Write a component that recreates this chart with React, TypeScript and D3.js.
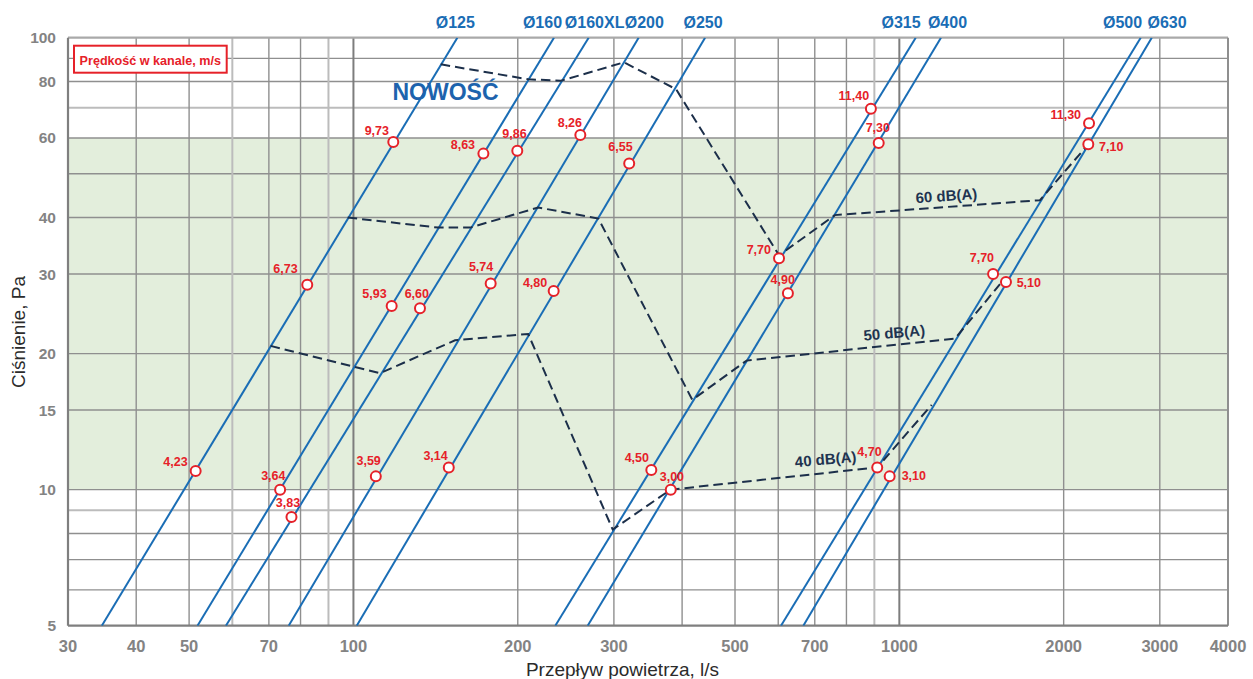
import React from "react";
import * as d3 from "d3";

// ---------- data ----------
const xTicks = [30, 40, 50, 70, 100, 200, 300, 500, 700, 1000, 2000, 3000, 4000];
const yTicks = [5, 10, 15, 20, 30, 40, 60, 80, 100];
const xGrid = [40, 50, 60, 70, 80, 90, 100, 200, 300, 400, 500, 600, 700, 800, 900, 1000, 2000, 3000];
const yGrid = [6, 7, 8, 9, 10, 15, 20, 30, 40, 50, 60, 70, 80, 90];
const xGridLight = [60, 90, 900];
const yGridLight = [70, 9];
const xGridHeavy = [100, 1000];

const ducts = ["Ø125", "Ø160", "Ø160XL", "Ø200", "Ø250", "Ø315", "Ø400", "Ø500", "Ø630"];
const ductFlowAt5Pa = [34.6, 51.8, 58.4, 76.1, 101.4, 234.3, 268.6, 607, 667];
const ductFlowAt100Pa = [155, 233, 269.7, 333, 440.7, 1071.6, 1192, 2768, 2900];

const pointDuct = [
  "Ø125", "Ø125", "Ø125",
  "Ø160", "Ø160", "Ø160",
  "Ø160XL", "Ø160XL", "Ø160XL",
  "Ø200", "Ø200", "Ø200",
  "Ø250", "Ø250", "Ø250",
  "Ø315", "Ø315", "Ø315",
  "Ø400", "Ø400", "Ø400",
  "Ø500", "Ø500", "Ø500",
  "Ø630", "Ø630", "Ø630",
];
const pointFlow = [
  51.4, 82.3, 118.3,
  73.4, 117.5, 173,
  77, 132.4, 199.6,
  109.9, 178.4, 260.4,
  149.5, 232.7, 320,
  351.3, 602, 887,
  381.3, 625, 916.7,
  911, 1485, 2226,
  960, 1568, 2219,
];
const pointPressure = [
  11.0, 28.4, 58.8,
  10.0, 25.5, 55.4,
  8.7, 25.2, 56.2,
  10.7, 28.6, 60.9,
  11.2, 27.5, 52.7,
  11.05, 32.5, 69.6,
  10.0, 27.2, 58.5,
  11.2, 30.0, 64.7,
  10.7, 28.8, 58.1,
];
const pointVelocity = [
  "4,23", "6,73", "9,73",
  "3,64", "5,93", "8,63",
  "3,83", "6,60", "9,86",
  "3,59", "5,74", "8,26",
  "3,14", "4,80", "6,55",
  "4,50", "7,70", "11,40",
  "3,00", "4,90", "7,30",
  "4,70", "7,70", "11,30",
  "3,10", "5,10", "7,10",
];

const noiseLevels = ["60 dB(A)", "50 dB(A)", "40 dB(A)"];
const noise60Flow = [144.5, 209, 240, 313, 390, 602, 762, 1810, 2219];
const noise60Pressure = [87.3, 80.9, 80.3, 88.2, 76.9, 33.0, 40.5, 43.7, 58.1];
const noise50Flow = [97.6, 143, 163.5, 218, 281, 417.6, 525, 1265, 1529];
const noise50Pressure = [40, 38, 38, 42.1, 39.8, 15.8, 19.3, 21.6, 28.5];
const noise40Flow = [70.5, 111.8, 153.5, 209, 298.5, 381, 911, 1146];
const noise40Pressure = [20.8, 18.1, 21.4, 22.1, 8.16, 10.0, 11.2, 15.4];

const bandLow = 10;
const bandHigh = 60;

// ---------- layout / style (not data) ----------
const W = 1253;
const H = 679;
const L = 68, R = 1228, T = 37.7, B = 625.7;

const ductLabelDx = [-2, -11.5, 6, 5.7, -2, -14.7, 6.5, -18.2, 15.3];
// [anchor, dx, dy] per velocity point
const labelPlace: [string, number, number][] = [
  ["end", -8, -5.4], ["end", -9.6, -11.4], ["end", -4.3, -7],
  ["end", 5.4, -10], ["end", -5, -7.7], ["end", -8.3, -4.4],
  ["end", 8.7, -9.7], ["end", 9, -10.7], ["end", 9.4, -12.4],
  ["end", 5, -11], ["end", 2.6, -12], ["end", 1.7, -8],
  ["end", -1, -7.4], ["end", -6.4, -4], ["end", 3.4, -12.3],
  ["end", -2.3, -7.7], ["end", -8, -4], ["end", -1.7, -8.4],
  ["end", 13.3, -8.7], ["end", 7, -9], ["end", 11.3, -10.7],
  ["end", 4.4, -11], ["end", 1, -11.7], ["end", -8, -3.7],
  ["start", 12, 4], ["start", 10.7, 5], ["start", 10.7, 6.7],
];
// dB label positions in data space + rotation
const noiseLabelFlow = [1220, 979, 733];
const noiseLabelPressure = [44.4, 22.1, 11.6];
const noiseLabelRot = [-4, -5, -5];

const FONT = "'Liberation Sans', Arial, Helvetica, sans-serif";
const BLUE = "#1a6db5";
const RED = "#e62129";
const NAVY = "#1c2f4a";

export default function App() {
  const x = d3.scaleLog().domain([30, 4000]).range([L, R]);
  const y = d3.scaleLog().domain([5, 100]).range([B, T]);
  const line = d3
    .line<[number, number]>()
    .x((d) => x(d[0]))
    .y((d) => y(d[1]));

  const noiseSeries = [
    d3.zip(noise60Flow, noise60Pressure) as [number, number][],
    d3.zip(noise50Flow, noise50Pressure) as [number, number][],
    d3.zip(noise40Flow, noise40Pressure) as [number, number][],
  ];

  return (
    <svg
      width={W}
      height={H}
      style={{ position: "absolute", left: 0, top: 0, display: "block", background: "#fff" }}
      fontFamily={FONT}
    >
      <defs>
        <clipPath id="plot">
          <rect x={L} y={T} width={R - L} height={B - T} />
        </clipPath>
      </defs>
      <rect x={0} y={0} width={W} height={H} fill="#fff" />
      {/* green band */}
      <rect x={L} y={y(bandHigh)} width={R - L} height={y(bandLow) - y(bandHigh)} fill="#e3eedc" />

      {/* grid */}
      {yGrid.map((v) => (
        <line
          key={"yg" + v}
          x1={L}
          x2={R}
          y1={y(v)}
          y2={y(v)}
          stroke={yGridLight.includes(v) ? "#bcbcbc" : "#8f8f8f"}
          strokeWidth={yGridLight.includes(v) ? 2 : 1.4}
        />
      ))}
      {xGrid.map((v) => (
        <line
          key={"xg" + v}
          x1={x(v)}
          x2={x(v)}
          y1={T}
          y2={B}
          stroke={xGridHeavy.includes(v) ? "#7d7d7d" : xGridLight.includes(v) ? "#bcbcbc" : "#8f8f8f"}
          strokeWidth={xGridHeavy.includes(v) ? 2 : xGridLight.includes(v) ? 2 : 1.4}
        />
      ))}
      {/* frame */}
      <line x1={L} x2={R} y1={T} y2={T} stroke="#a9a9a9" strokeWidth={2.2} />
      <line x1={R} x2={R} y1={T} y2={B} stroke="#8f8f8f" strokeWidth={2} />
      <line x1={L} x2={L} y1={T} y2={B} stroke="#7f7f7f" strokeWidth={2.2} />
      <line x1={L} x2={R} y1={B} y2={B} stroke="#7f7f7f" strokeWidth={2.2} />

      {/* duct lines */}
      <g clipPath="url(#plot)">
        {ducts.map((d, i) => (
          <path
            key={d}
            d={line([
              [ductFlowAt5Pa[i], 5],
              [ductFlowAt100Pa[i], 100],
            ]) || ""}
            stroke={BLUE}
            strokeWidth={2}
            fill="none"
          />
        ))}
        {/* noise curves */}
        {noiseSeries.map((s, i) => (
          <path
            key={"n" + i}
            d={line(s) || ""}
            stroke={NAVY}
            strokeWidth={2}
            strokeDasharray="9.5 5"
            fill="none"
          />
        ))}
      </g>

      {/* duct labels */}
      {ducts.map((d, i) => (
        <text
          key={"dl" + d}
          x={x(ductFlowAt100Pa[i]) + ductLabelDx[i]}
          y={27.5}
          textAnchor="middle"
          fontSize={16}
          fontWeight="bold"
          fill={BLUE}
        >
          {d}
        </text>
      ))}

      {/* noise labels */}
      {noiseLevels.map((t, i) => {
        const lx = x(noiseLabelFlow[i]);
        const ly = y(noiseLabelPressure[i]);
        return (
          <text
            key={"nl" + i}
            x={lx}
            y={ly}
            transform={`rotate(${noiseLabelRot[i]} ${lx} ${ly})`}
            textAnchor="middle"
            dominantBaseline="middle"
            fontSize={15}
            fontWeight="bold"
            fill="#1e3350"
          >
            {t}
          </text>
        );
      })}

      {/* velocity points */}
      {pointFlow.map((q, i) => {
        const cx = x(q);
        const cy = y(pointPressure[i]);
        const [anchor, dx, dy] = labelPlace[i];
        return (
          <g key={"p" + i}>
            <circle cx={cx} cy={cy} r={5} fill="#fff" stroke={RED} strokeWidth={2} />
            <text
              x={cx + dx}
              y={cy + dy}
              textAnchor={anchor}
              fontSize={12.5}
              fontWeight="bold"
              fill={RED}
            >
              {pointVelocity[i]}
            </text>
          </g>
        );
      })}

      {/* NOWOŚĆ */}
      <text x={392.5} y={100} fontSize={23} fontWeight="bold" fill="#1d63ad">
        NOWOŚĆ
      </text>

      {/* legend box */}
      <rect x={74} y={45.7} width={152.7} height={27} fill="#fff" stroke={RED} strokeWidth={2} />
      <text x={150.3} y={64.5} textAnchor="middle" fontSize={12.6} fontWeight="bold" fill={RED}>
        Prędkość w kanale, m/s
      </text>

      {/* axis tick labels */}
      {yTicks.map((v) => (
        <text
          key={"yt" + v}
          x={56}
          y={y(v)}
          textAnchor="end"
          dominantBaseline="central"
          fontSize={15.5}
          fontWeight="bold"
          fill="#838383"
        >
          {v}
        </text>
      ))}
      {xTicks.map((v) => (
        <text
          key={"xt" + v}
          x={x(v)}
          y={651.5}
          textAnchor="middle"
          fontSize={16.5}
          fontWeight="bold"
          fill="#838383"
        >
          {v}
        </text>
      ))}

      {/* axis titles */}
      <text x={622.5} y={675.5} textAnchor="middle" fontSize={19} fill="#2b2b2b">
        Przepływ powietrza, l/s
      </text>
      <text
        transform="translate(25 332) rotate(-90)"
        textAnchor="middle"
        fontSize={19}
        fill="#2b2b2b"
      >
        Ciśnienie, Pa
      </text>
    </svg>
  );
}
